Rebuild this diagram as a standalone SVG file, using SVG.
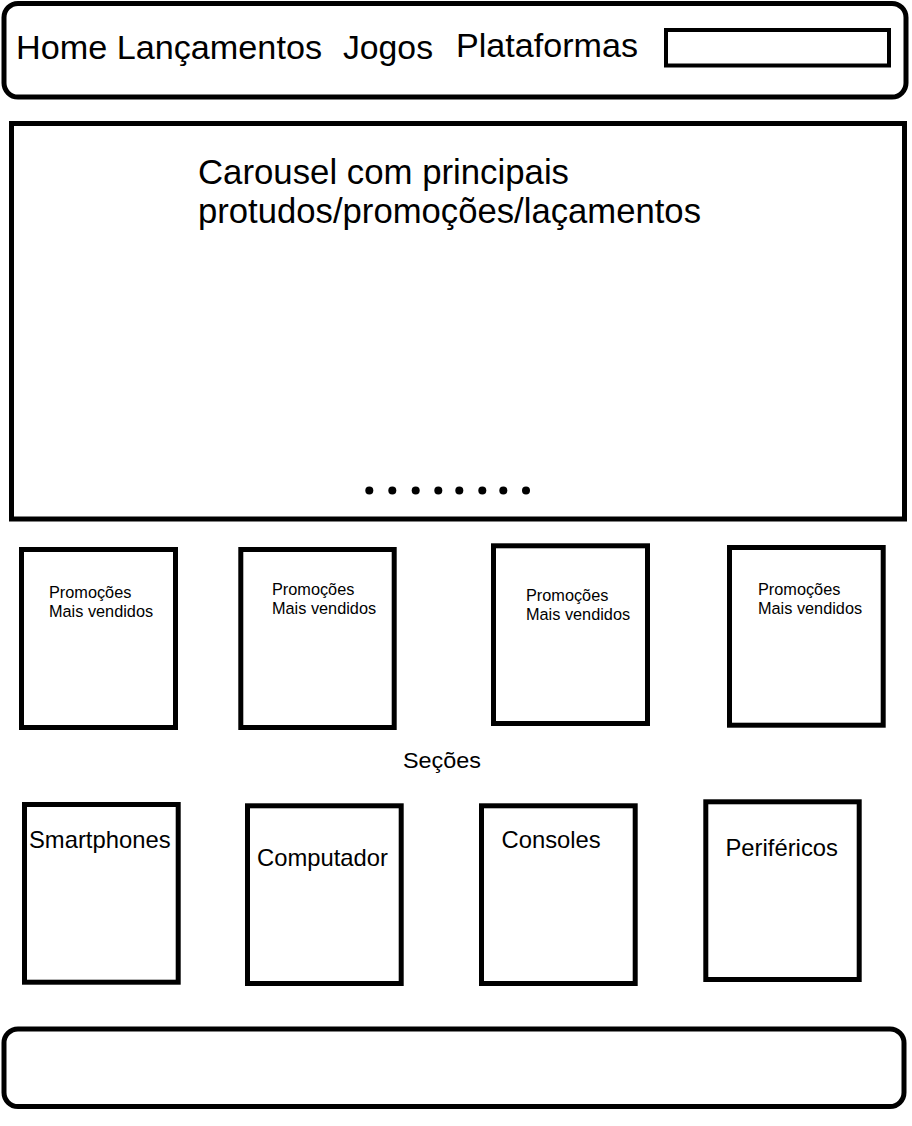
<svg xmlns="http://www.w3.org/2000/svg" width="912" height="1126" viewBox="0 0 912 1126">
<style>
.box{fill:#fff;stroke:#000;stroke-width:5}
.t{font-family:"Liberation Sans",Arial,sans-serif;fill:#000}
.nav{font-size:34px}
.big{font-size:35px}
.sm{font-size:16.3px}
.sec{font-size:23.8px}
.dot{fill:#000}
</style>
<rect width="912" height="1126" fill="#fff"/>
<g id="header">
<rect class="box" x="4" y="3.5" width="902" height="93.5" rx="14"/>
<text class="t nav" x="16" y="59" textLength="306" lengthAdjust="spacingAndGlyphs">Home Lançamentos</text>
<text class="t nav" x="343" y="59" textLength="90" lengthAdjust="spacingAndGlyphs">Jogos</text>
<text class="t nav" x="456" y="57" textLength="182" lengthAdjust="spacingAndGlyphs">Plataformas</text>
<rect class="box" style="stroke-width:4" x="666" y="30" width="223" height="35.5"/>
</g>
<g id="carousel">
<rect class="box" x="11.5" y="123.5" width="893" height="395.5"/>
<text class="t big" x="198" y="184" textLength="371" lengthAdjust="spacingAndGlyphs">Carousel com principais</text>
<text class="t big" x="198" y="223" textLength="503" lengthAdjust="spacingAndGlyphs">protudos/promoções/laçamentos</text>
<circle class="dot" cx="369.3" cy="490.5" r="4"/>
<circle class="dot" cx="392.3" cy="490.5" r="4"/>
<circle class="dot" cx="415.7" cy="490.5" r="4"/>
<circle class="dot" cx="438.3" cy="490.5" r="4"/>
<circle class="dot" cx="459.3" cy="490.5" r="4"/>
<circle class="dot" cx="482.3" cy="490.5" r="4"/>
<circle class="dot" cx="503.3" cy="490.5" r="4"/>
<circle class="dot" cx="526" cy="490.5" r="4"/>
</g>
<g id="promo1">
<rect class="box" x="21.5" y="549.5" width="154" height="178"/>
<text class="t sm" x="49" y="598">Promoções</text>
<text class="t sm" x="49" y="617">Mais vendidos</text>
</g>
<g id="promo2">
<rect class="box" x="240.8" y="549.5" width="153.4" height="178"/>
<text class="t sm" x="272" y="595">Promoções</text>
<text class="t sm" x="272" y="614">Mais vendidos</text>
</g>
<g id="promo3">
<rect class="box" x="493.5" y="545.8" width="154" height="177.7"/>
<text class="t sm" x="526" y="601">Promoções</text>
<text class="t sm" x="526" y="620">Mais vendidos</text>
</g>
<g id="promo4">
<rect class="box" x="729.5" y="547.5" width="153.7" height="177.7"/>
<text class="t sm" x="758" y="595">Promoções</text>
<text class="t sm" x="758" y="614">Mais vendidos</text>
</g>
<g id="secoes-label">
<text class="t" style="font-size:22px" x="403" y="768" textLength="78" lengthAdjust="spacingAndGlyphs">Seções</text>
</g>
<g id="smartphones">
<rect class="box" x="24.5" y="804.5" width="153.7" height="177.7"/>
<text class="t sec" x="29" y="848">Smartphones</text>
</g>
<g id="computador">
<rect class="box" x="247.5" y="805.8" width="153.7" height="177.7"/>
<text class="t sec" x="257" y="866">Computador</text>
</g>
<g id="consoles">
<rect class="box" x="481.5" y="805.8" width="153.7" height="177.7"/>
<text class="t sec" x="501.5" y="848">Consoles</text>
</g>
<g id="perifericos">
<rect class="box" x="705.8" y="801.8" width="153.4" height="177.7"/>
<text class="t sec" x="725.5" y="856">Periféricos</text>
</g>
<g id="footer">
<rect class="box" x="4" y="1029" width="900" height="77.5" rx="14"/>
</g>
<g id="connectors"></g>
</svg>
